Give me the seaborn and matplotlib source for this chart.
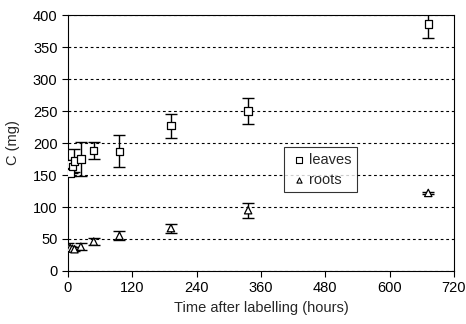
import matplotlib
matplotlib.use('Agg')
import matplotlib.pyplot as plt
import seaborn as sns
import pandas as pd

# hours after labelling
hours = [0, 4, 8, 12, 24, 48, 96, 192, 336, 672]
leaves_c = [167, 153, 163, 172, 175, 188, 187, 227, 250, 386]
leaves_err = [5, 5, 10, 18, 27, 13, 25, 19, 20, 22]
roots_c = [37, 36, 35, 34, 38, 46, 55, 67, 95, 122]
roots_err = [6, 3, 3, 3, 5, 5, 7, 7, 12, 2]

sns.set_style('white')
plt.rcParams['font.family'] = ['Liberation Sans', 'DejaVu Sans']

df = pd.concat([
    pd.DataFrame({'hours': hours, 'C': leaves_c, 'err': leaves_err, 'part': 'leaves'}),
    pd.DataFrame({'hours': hours, 'C': roots_c, 'err': roots_err, 'part': 'roots'}),
])

fig = plt.figure(figsize=(4.66, 3.24), dpi=100)
ax = fig.add_axes([68 / 466, 1 - 271 / 324, (454 - 68) / 466, (271 - 15) / 324])

for part, sub in df.groupby('part'):
    ax.errorbar(sub['hours'], sub['C'], yerr=sub['err'], fmt='none',
                ecolor='black', elinewidth=1, capsize=4, capthick=1, zorder=2)

sns.scatterplot(data=df, x='hours', y='C', style='part',
                markers={'leaves': 's', 'roots': '^'}, s=28,
                facecolor='white', edgecolor='black', linewidth=0.9,
                ax=ax, zorder=3, legend=False)

# legend built by hand so the markers stay hollow
h1 = ax.scatter([], [], marker='s', s=14, facecolor='white', edgecolor='black', linewidth=0.8)
h2 = ax.scatter([], [], marker='^', s=14, facecolor='white', edgecolor='black', linewidth=0.8)
leg = ax.legend([h1, h2], ['leaves', 'roots'], loc='center left',
                bbox_to_anchor=(0.56, 0.396), borderaxespad=0, fontsize=10.5,
                frameon=True, fancybox=False, handletextpad=0.1, borderpad=0.4,
                handlelength=1.2, labelspacing=0.4)
leg.get_frame().set_edgecolor('black')
leg.get_frame().set_linewidth(0.8)

ax.set_xlim(0, 720)
ax.set_ylim(0, 400)
ax.set_xticks(range(0, 721, 120))
ax.set_yticks(range(0, 401, 50))
ax.yaxis.grid(True, linestyle=(0, (2.5, 2.5)), color='black', linewidth=0.8)
ax.set_axisbelow(True)
for sp in ax.spines.values():
    sp.set_color('black')
    sp.set_linewidth(0.8)
ax.tick_params(axis='both', direction='out', length=4, width=0.8, colors='black',
               labelsize=10.5, left=True, bottom=True)
ax.set_xlabel('Time after labelling (hours)', fontsize=10.5, labelpad=4)
ax.set_ylabel('C (mg)', fontsize=10.5, labelpad=9)

fig.savefig('out.png', dpi=100)
